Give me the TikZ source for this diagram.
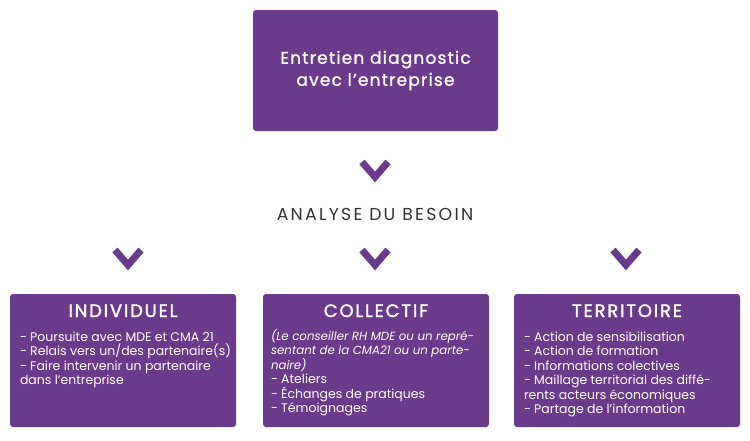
\documentclass[tikz,border=0pt]{standalone}
\usepackage{fontspec}
\setmainfont{Poppins}
\newfontfamily\semifont[FakeBold=1.2, LetterSpace=7]{Poppins}
\newfontfamily\capsfont[LetterSpace=13]{Poppins}
\newfontfamily\titlefont[FakeBold=1.6, LetterSpace=10]{Poppins}
\usepackage{tikz}
\usetikzlibrary{positioning}
\usetikzlibrary{calc}
\definecolor{mauve}{HTML}{6A3A8B}
\definecolor{gristexte}{HTML}{333333}

\begin{document}
\begin{tikzpicture}[
  x=1pt, y=-1pt,
  panel/.style={rectangle, fill=mauve, rounded corners=3pt, inner sep=0pt},
  bigpanel/.style={panel, minimum width=245pt, minimum height=121pt},
  smallpanel/.style={panel, minimum width=226pt, minimum height=133pt},
  heading/.style={text=white, font=\titlefont\fontsize{18}{20}\selectfont, inner sep=0pt, anchor=base},
  bullets/.style={text=white, font=\fontsize{12.5}{14.5}\selectfont, align=left, inner sep=0pt, anchor=north west},
  chevron/.pic={\draw[mauve, line width=7pt, miter limit=10] (-13,-8) -- (0,7) -- (13,-8);}
]

\useasboundingbox (0,0) rectangle (750,440);

% Nodes
\node[bigpanel] (diag) at (375.5,70.5) {};
\node[text=white, font=\semifont\fontsize{17}{22}\selectfont, align=center] (diagtxt) at (diag.center) {Entretien diagnostic\\avec l’entreprise};

\node[text=gristexte, font=\capsfont\fontsize{17.3}{18}\selectfont, inner sep=0pt, anchor=base] (besoin) at (375,220) {ANALYSE DU BESOIN};

% Three panels
\node[smallpanel] (indiv) at (123,360.5) {};
\node[smallpanel] (collec) at (376,360.5) {};
\node[smallpanel] (territ) at (627,360.5) {};

\node[heading] (indivtitle) at (indiv.center |- 0,317) {INDIVIDUEL};
\node[heading] (collectitle) at (collec.center |- 0,317) {COLLECTIF};
\node[heading] (territtitle) at (territ.center |- 0,317) {TERRITOIRE};

\node[bullets] (indivlist) at ($(indiv.north west)+(10,37.5)$) {- Poursuite avec MDE et CMA 21\\- Relais vers un/des partenaire(s)\\- Faire intervenir un partenaire\\dans l’entreprise};

\node[bullets, font=\fontsize{11.8}{13.5}\selectfont\itshape] (collecnote) at ($(collec.north west)+(8,35.5)$) {(Le conseiller RH MDE ou un repré-\\sentant de la CMA21 ou un parte-\\naire)};
\node[bullets, below=2.5pt of collecnote.south west, anchor=north west] (colleclist) {- Ateliers\\- Échanges de pratiques\\- Témoignages};

\node[bullets] (territlist) at ($(territ.north west)+(10,37.5)$) {- Action de sensibilisation\\- Action de formation\\- Informations colectives\\- Maillage territorial des diffé-\\rents acteurs économiques\\- Partage de l’information};

% Chevrons
\pic at (375,170) {chevron};
\pic at (128,258) {chevron};
\pic at (375,258) {chevron};
\pic at (626,258) {chevron};

\end{tikzpicture}
\end{document}
